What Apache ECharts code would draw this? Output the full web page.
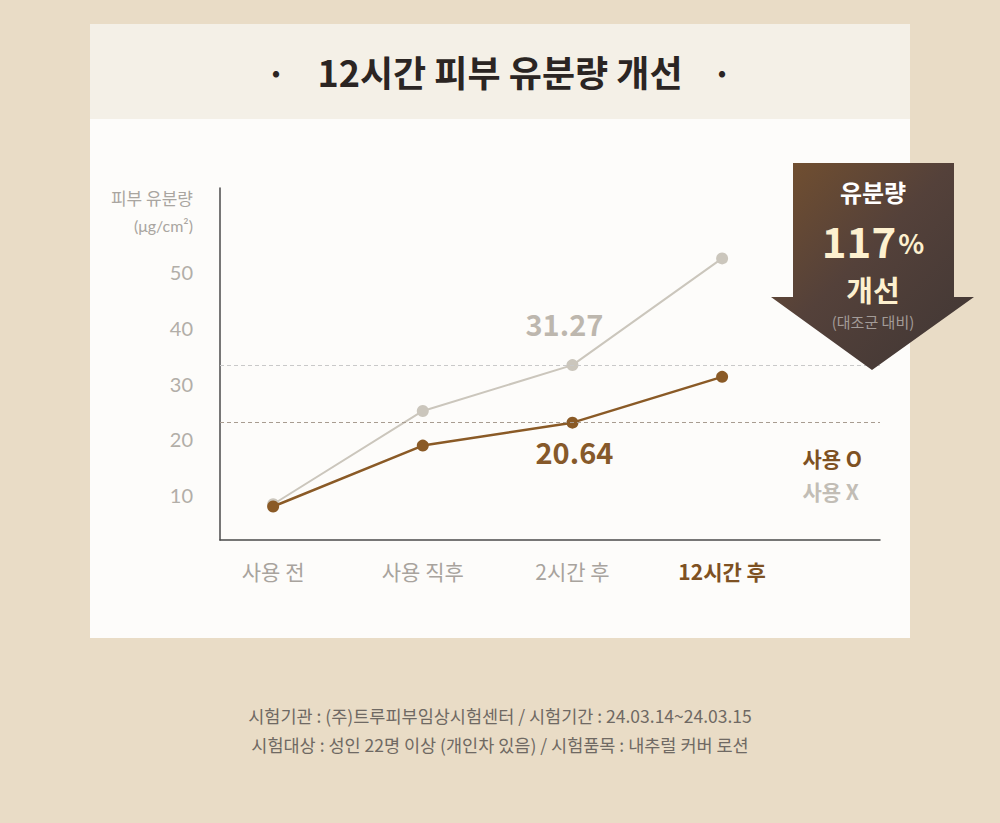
<!DOCTYPE html>
<html>
<head>
<meta charset="utf-8">
<script src="https://cdn.jsdelivr.net/npm/echarts@6/dist/echarts.min.js"></script>
<style>
  html, body { margin: 0; padding: 0; background: #e9dcc6; }
  #chart { width: 1000px; height: 823px; }
</style>
</head>
<body>
<div id="chart"></div>
<script>
// 측정 시점
var stages = ['사용 전', '사용 직후', '2시간 후', '12시간 후']
// 피부 유분량 (μg/cm²) - 사용 O / 사용 X
var oilUsed = [8.0, 18.9, 23.0, 31.2]
var oilNotUsed = [8.4, 25.1, 33.3, 52.4]
// 그래프 위에 표시된 수치
var usedLabels = ['', '', '20.64', '']
var notUsedLabels = ['', '', '31.27', '']
var yTicks = [10, 20, 30, 40, 50]
var seriesNames = ['사용 O', '사용 X']

var BROWN = '#8a5a26'
var GREY = '#cbc6bc'
var FONT = 'Noto Sans CJK KR'

var myChart = echarts.init(document.getElementById('chart'), null, { renderer: 'svg' })

function toPoints(values, labels, labelStyle) {
  return values.map(function (v, i) {
    var item = { value: [i, v] }
    if (labels[i]) {
      item.label = Object.assign({ show: true, formatter: labels[i] }, labelStyle)
    }
    return item
  })
}

var option = {
  backgroundColor: '#e9dcc6',
  textStyle: { fontFamily: FONT },
  title: [
    {
      text: '12시간 피부 유분량 개선',
      left: 'center',
      top: 48,
      textStyle: { fontFamily: FONT, fontSize: 36, fontWeight: 'bold', color: '#2b2523' }
    },
    {
      text: '시험기관 : (주)트루피부임상시험센터 / 시험기간 : 24.03.14~24.03.15\n시험대상 : 성인 22명 이상 (개인차 있음) / 시험품목 : 내추럴 커버 로션',
      left: 'center',
      top: 696,
      textStyle: { fontFamily: FONT, fontSize: 17.5, fontWeight: 'normal', color: '#6f6963', lineHeight: 29, align: 'center' }
    }
  ],
  legend: {
    orient: 'vertical',
    right: 133,
    top: 442,
    icon: 'none',
    itemWidth: 0,
    itemGap: 13,
    selectedMode: false,
    textStyle: { fontFamily: FONT, fontSize: 21, fontWeight: 'bold' },
    data: [
      { name: seriesNames[0], textStyle: { color: '#7e5122' } },
      { name: seriesNames[1], textStyle: { color: '#c2bdb5' } }
    ]
  },
  grid: { left: 220, right: 120, top: 188, bottom: 283 },
  xAxis: {
    type: 'value',
    min: -0.355,
    max: 4.055,
    splitLine: { show: false },
    axisTick: { show: false },
    axisLine: { onZero: false, lineStyle: { color: '#4a4a4a', width: 1.5 } },
    axisLabel: {
      customValues: [0, 1, 2, 3],
      margin: 20,
      fontFamily: FONT,
      fontSize: 21,
      color: '#a8a39d',
      formatter: function (v) {
        var name = stages[Math.round(v)]
        return v === 3 ? '{hl|' + name + '}' : name
      },
      rich: {
        hl: { fontFamily: FONT, fontSize: 21, fontWeight: 'bold', color: '#7e5122' }
      }
    }
  },
  yAxis: {
    type: 'value',
    min: 2,
    max: 65,
    name: '{a|피부 유분량}\n{b|(μg/cm²)}',
    nameLocation: 'end',
    nameGap: -23,
    nameTextStyle: {
      align: 'right',
      verticalAlign: 'middle',
      padding: [0, 27, 0, 0],
      rich: {
        a: { fontFamily: FONT, fontSize: 17, color: '#a9a5a0', lineHeight: 28, align: 'right' },
        b: { fontFamily: 'Lato', fontSize: 16, color: '#a9a5a0', lineHeight: 28, align: 'right' }
      }
    },
    splitLine: { show: false },
    axisTick: { show: false },
    axisLine: { show: true, onZero: false, lineStyle: { color: '#4a4a4a', width: 1.5 } },
    axisLabel: {
      customValues: yTicks,
      margin: 27,
      fontFamily: 'Lato',
      fontSize: 20,
      color: '#b2aea8'
    }
  },
  series: [
    {
      name: seriesNames[1],
      type: 'line',
      data: toPoints(oilNotUsed, notUsedLabels, {
        position: 'top', distance: 22, offset: [-8, 0],
        fontFamily: FONT, fontSize: 29, fontWeight: 'bold', color: '#bdb7ae'
      }),
      symbol: 'circle',
      symbolSize: 12,
      lineStyle: { color: GREY, width: 2 },
      itemStyle: { color: GREY },
      z: 2,
      markLine: {
        silent: true,
        symbol: 'none',
        label: { show: false },
        lineStyle: { color: '#c9c9c9', type: [4, 3], width: 1 },
        data: [{ yAxis: oilNotUsed[2] }]
      }
    },
    {
      name: seriesNames[0],
      type: 'line',
      data: toPoints(oilUsed, usedLabels, {
        position: 'bottom', distance: 8, offset: [2, 0],
        fontFamily: FONT, fontSize: 29, fontWeight: 'bold', color: '#86592a'
      }),
      symbol: 'circle',
      symbolSize: 12,
      lineStyle: { color: BROWN, width: 2.5 },
      itemStyle: { color: BROWN },
      z: 3,
      markLine: {
        silent: true,
        symbol: 'none',
        label: { show: false },
        lineStyle: { color: '#a89c90', type: [4, 3], width: 1 },
        data: [{ yAxis: oilUsed[2] }]
      }
    }
  ],
  graphic: [
    // 카드 배경
    { type: 'rect', z: -10, shape: { x: 90, y: 24, width: 820, height: 614 }, style: { fill: '#fdfcfa' } },
    { type: 'rect', z: -9, shape: { x: 90, y: 24, width: 820, height: 95 }, style: { fill: '#f4f0e7' } },
    { type: 'text', z: 5, x: 276, y: 72, style: { text: '·', fontFamily: FONT, fontSize: 34, fontWeight: 'bold', fill: '#2b2523', textAlign: 'center', textVerticalAlign: 'middle' } },
    { type: 'text', z: 5, x: 722, y: 72, style: { text: '·', fontFamily: FONT, fontSize: 34, fontWeight: 'bold', fill: '#2b2523', textAlign: 'center', textVerticalAlign: 'middle' } },
    // 화살표 배지
    {
      type: 'polygon',
      z: 20,
      shape: { points: [[793, 163], [954, 163], [954, 297], [974, 297], [872, 370], [771, 297], [793, 297]] },
      style: {
        fill: new echarts.graphic.LinearGradient(0, 0, 1, 1, [
          { offset: 0, color: '#74502f' },
          { offset: 0.45, color: '#54413a' },
          { offset: 1, color: '#3f3634' }
        ])
      }
    },
    { type: 'text', z: 21, x: 873, y: 191, style: { text: '유분량', fontFamily: FONT, fontSize: 24, fontWeight: 'bold', fill: '#ffffff', textAlign: 'center', textVerticalAlign: 'middle' } },
    {
      type: 'text', z: 21, x: 873, y: 239,
      style: {
        text: '{a|117}{b|%}',
        textAlign: 'center',
        textVerticalAlign: 'middle',
        rich: {
          a: { fontFamily: FONT, fontSize: 42, fontWeight: 'bold', fill: '#fdf0cf', color: '#fdf0cf', lineHeight: 34 },
          b: { fontFamily: FONT, fontSize: 27, fontWeight: 'bold', fill: '#fdf0cf', color: '#fdf0cf', lineHeight: 34, verticalAlign: 'bottom', padding: [0, 0, 0, 2] }
        }
      }
    },
    { type: 'text', z: 21, x: 873, y: 289, style: { text: '개선', fontFamily: FONT, fontSize: 29, fontWeight: 'bold', fill: '#fdf0cf', textAlign: 'center', textVerticalAlign: 'middle' } },
    { type: 'text', z: 21, x: 873, y: 321, style: { text: '(대조군 대비)', fontFamily: FONT, fontSize: 15, fill: '#a39b97', textAlign: 'center', textVerticalAlign: 'middle' } }
  ]
}

myChart.setOption(option)
</script>
</body>
</html>
